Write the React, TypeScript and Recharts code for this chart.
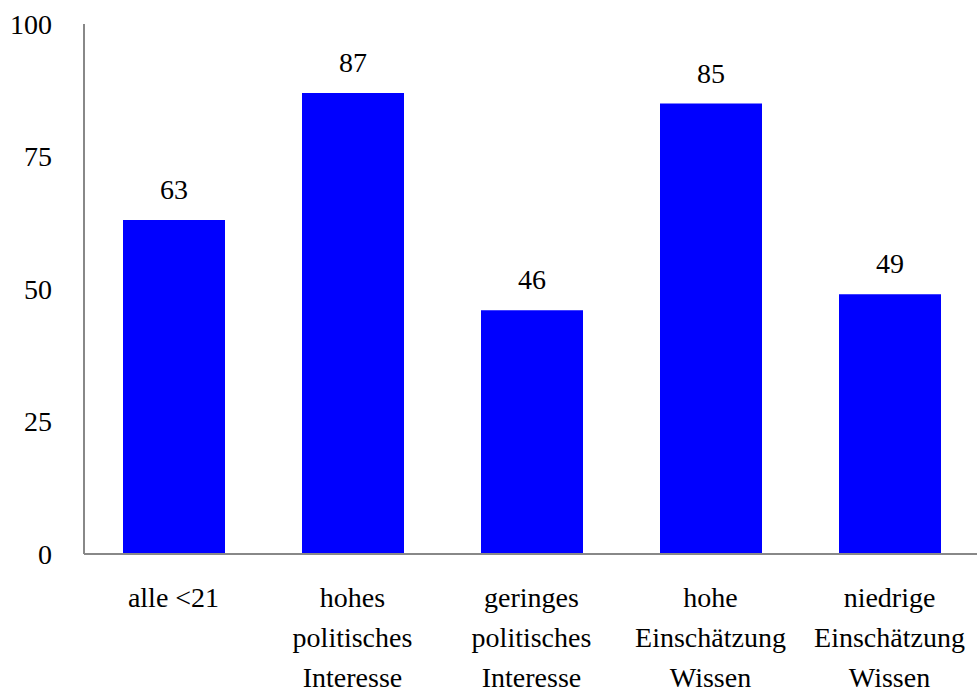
import React from "react";
import { BarChart, Bar, XAxis, YAxis, LabelList } from "recharts";

// Category labels, one string per line of the wrapped axis label
const categoryLines: string[][] = [
  ["alle <21"],
  ["hohes", "politisches", "Interesse"],
  ["geringes", "politisches", "Interesse"],
  ["hohe", "Einschätzung", "Wissen"],
  ["niedrige", "Einschätzung", "Wissen"],
];
const shares: number[] = [63, 87, 46, 85, 49];
const yTicks: number[] = [0, 25, 50, 75, 100];

const data = categoryLines.map((lines, i) => ({
  name: lines.join(" "),
  value: shares[i],
}));

const FONT = "'Liberation Serif', 'Times New Roman', serif";
const FONT_SIZE = 28;

const CategoryTick = (props: any) => {
  const { x, y, index } = props;
  const lines = categoryLines[index] || [];
  return (
    <text
      x={x}
      y={y}
      textAnchor="middle"
      fontFamily={FONT}
      fontSize={FONT_SIZE}
      fill="#000"
    >
      {lines.map((line, i) => (
        <tspan key={i} x={x} dy={i === 0 ? 45 : 40}>
          {line}
        </tspan>
      ))}
    </text>
  );
};

export default function App() {
  return (
    <div
      style={{
        position: "absolute",
        left: 0,
        top: 0,
        width: 977,
        height: 696,
        overflow: "hidden",
        background: "#fff",
      }}
    >
      <BarChart
        width={979}
        height={696}
        data={data}
        margin={{ top: 24, right: 0, bottom: 0, left: 0 }}
      >
        <XAxis
          dataKey="name"
          axisLine={{ stroke: "#888", strokeWidth: 2 }}
          tickLine={false}
          height={142}
          interval={0}
          tick={<CategoryTick />}
        />
        <YAxis
          domain={[0, 100]}
          ticks={yTicks}
          width={84}
          axisLine={{ stroke: "#888", strokeWidth: 2 }}
          tickLine={false}
          tickMargin={26}
          tick={{ fill: "#000", fontFamily: FONT, fontSize: FONT_SIZE }}
        />
        <Bar dataKey="value" fill="#0000FF" barSize={102} isAnimationActive={false}>
          <LabelList
            dataKey="value"
            position="top"
            offset={21}
            fill="#000"
            fontFamily={FONT}
            fontSize={FONT_SIZE}
          />
        </Bar>
      </BarChart>
    </div>
  );
}
